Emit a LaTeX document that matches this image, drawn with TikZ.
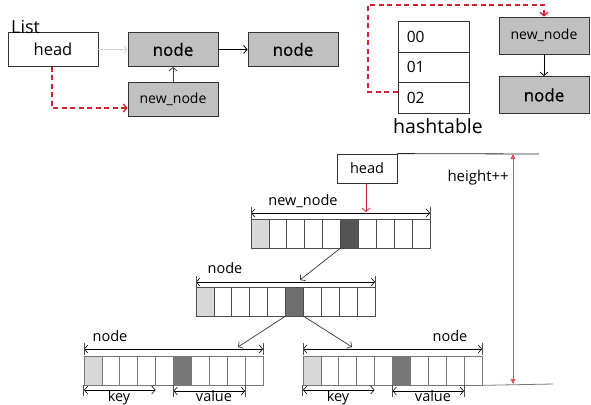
\documentclass[tikz,border=0pt]{standalone}
\usepackage{fontspec}
\setmainfont{Open Sans}
\newfontfamily\semibold[FakeBold=0.8]{Open Sans}
\usetikzlibrary{arrows.meta,calc}

\definecolor{boxgray}{RGB}{192,192,192}
\definecolor{lightcell}{RGB}{216,216,216}
\definecolor{darkcellA}{RGB}{85,85,85}
\definecolor{darkcellB}{RGB}{110,110,110}
\definecolor{darkcellC}{RGB}{120,120,120}
\definecolor{dashred}{RGB}{210,30,45}
\definecolor{heightred}{RGB}{225,80,100}
\definecolor{linegray}{RGB}{120,120,120}

\tikzset{
  box/.style={draw=black!80, line width=0.8pt, minimum width=90pt, minimum height=34pt, inner sep=0pt},
  graybox/.style={box, fill=boxgray},
  cell/.style={line width=0.7pt, minimum width=17.9pt, minimum height=29pt, inner sep=0pt},
  barb/.style={-{Straight Barb[length=3.5pt,width=8pt]}},
  dblbarb/.style={{Straight Barb[length=3.5pt,width=8pt]}-{Straight Barb[length=3.5pt,width=8pt]}},
  reddash/.style={draw=dashred, line width=1.3pt, dash pattern=on 5pt off 3.5pt},
  tick/.style={line width=0.6pt, draw=black!70},
  lbl/.style={font=\fontsize{14.5}{16}\selectfont, inner sep=0pt},
  bignode/.style={font=\fontsize{17}{19}\selectfont\semibold},
}

% one row of ten cells: name, left x, top y, colour of the sixth cell, border colour
\newcommand\cellrow[5]{%
  \foreach \i in {0,...,9}{%
    \pgfmathsetmacro\cx{#2+(\i+0.5)*17.9}%
    \ifnum\i=0 \def\cf{lightcell}\else\ifnum\i=5 \def\cf{#4}\else\def\cf{white}\fi\fi
    \node[cell, draw=#5, fill=\cf] (#1-\i) at (\cx,#3+14.5) {};
  }%
}

\begin{document}
\begin{tikzpicture}[x=1pt,y=-1pt]
\useasboundingbox (0,0) rectangle (591,404);

% ---------------- linked list ----------------
\node[box, font=\fontsize{16.5}{18}\selectfont] (head) at (53,49.5) {head};
\node[graybox, bignode] (n1) at (173,49.5) {node};
\node[graybox, bignode] (n2) at (293,49.5) {node};
\node[graybox, font=\fontsize{14}{15}\selectfont] (nn) at (173,99) {new\_node};
\node[anchor=south west, inner sep=0pt, font=\fontsize{18}{20}\selectfont] (list) at (11,34) {List};

\draw[barb, draw=black!18, line width=0.8pt] (head) -- (n1);
\draw[barb, line width=0.8pt] (n1) -- (n2);
\draw[barb, line width=0.8pt, draw=black!75] (nn) -- (n1);
\coordinate (hbend) at (52,108);
\draw[reddash, barb] (head.south -| hbend) -- (hbend) -- (hbend -| nn.west);

% ---------------- hashtable ----------------
\node[draw=black!80, line width=0.8pt, minimum width=71pt, minimum height=31pt, inner sep=0pt] (h0) at (433.5,36.5) {};
\node[draw=black!80, line width=0.8pt, minimum width=71pt, minimum height=30pt, inner sep=0pt] (h1) at (433.5,67) {};
\node[draw=black!80, line width=0.8pt, minimum width=71pt, minimum height=31pt, inner sep=0pt] (h2) at (433.5,97.5) {};
\node[anchor=west, inner sep=0pt, font=\fontsize{15.5}{17}\selectfont] at (h0.west) [xshift=9pt] {00};
\node[anchor=west, inner sep=0pt, font=\fontsize{15.5}{17}\selectfont] at (h1.west) [xshift=9pt] {01};
\node[anchor=west, inner sep=0pt, font=\fontsize{15.5}{17}\selectfont] at (h2.west) [xshift=9pt] {02};
\node[inner sep=0pt, font=\fontsize{19.5}{21}\selectfont] (htlabel) at (438,126) {hashtable};

\node[graybox, minimum height=37pt, font=\fontsize{14}{15}\selectfont] (hnn) at (544,35.5) {new\_node};
\node[graybox, minimum height=37pt, bignode] (hn) at (544,95) {node};
\draw[barb, line width=0.8pt] (hnn) -- (hn);
\coordinate (hb1) at (368,92);
\coordinate (hb2) at (368,5);
\draw[reddash, barb] (h2.west |- hb1) -- (hb1) -- (hb2) -- (hb2 -| hnn.north) -- (hnn.north);

% ---------------- skip list ----------------
\node[draw=black!80, line width=0.8pt, minimum width=60pt, minimum height=29pt, inner sep=0pt, font=\fontsize{14.5}{16}\selectfont] (shead) at (367,168.5) {head};
\coordinate (topend) at (539,154);
\draw[line width=0.8pt, draw=black!85] (shead.north east) -- (topend);

% level 2
\cellrow{A}{251}{219}{darkcellA}{black!70}
\draw[dblbarb, line width=0.6pt] (251,213) coordinate (Aleft) -- (430,213) coordinate (Aright);
\draw[tick] (Aleft) ++(0,-6) -- ++(0,12);
\draw[tick] (Aright) ++(0,-6) -- ++(0,12);
\node[lbl] at (303,201) {new\_node};

% level 1
\cellrow{B}{196}{287}{darkcellB}{black!70}
\draw[dblbarb, line width=0.6pt] (196,282) coordinate (Bleft) -- (375,282) coordinate (Bright);
\draw[tick] (Bleft) ++(0,-6) -- ++(0,11);
\draw[tick] (Bright) ++(0,-6) -- ++(0,11);
\node[lbl] at (225,268) {node};

% level 0, left
\cellrow{C}{84}{356}{darkcellC}{linegray}
\draw[dblbarb, line width=0.6pt] (84,349) coordinate (Cleft) -- (263,349) coordinate (Cright);
\draw[tick] (Cleft) ++(0,-6) -- ++(0,12);
\draw[tick] (Cright) ++(0,-6) -- ++(0,12);
\node[lbl] at (110,336) {node};
\draw[dblbarb, line width=0.6pt] (84,390) coordinate (Ck1) -- (155.6,390) coordinate (Ck2);
\draw[tick] (C-0.south west) -- ++(0,11);
\draw[dblbarb, line width=0.6pt] (173.5,391) coordinate (Cv1) -- (245,391) coordinate (Cv2);
\draw[tick] (C-5.south west) -- ++(0,12);
\draw[tick] (C-8.south east) -- ++(0,12);
\node[lbl, anchor=base] at (119,401) {key};
\node[lbl, anchor=base] at (214,401) {value};

% level 0, right
\cellrow{D}{303}{356}{darkcellC}{linegray}
\draw[dblbarb, line width=0.6pt] (303,349) coordinate (Dleft) -- (482,349) coordinate (Dright);
\draw[tick] (Dleft) ++(0,-6) -- ++(0,12);
\draw[tick] (Dright) ++(0,-6) -- ++(0,12);
\node[lbl] at (450,336) {node};
\draw[dblbarb, line width=0.6pt] (303,390) coordinate (Dk1) -- (374.6,390) coordinate (Dk2);
\draw[tick] (D-0.south west) -- ++(0,11);
\draw[dblbarb, line width=0.6pt] (392.5,391) coordinate (Dv1) -- (464,391) coordinate (Dv2);
\draw[tick] (D-5.south west) -- ++(0,12);
\draw[tick] (D-8.south east) -- ++(0,12);
\node[lbl, anchor=base] at (338,401) {key};
\node[lbl, anchor=base] at (433,401) {value};

\coordinate (botend) at (553,384);
\draw[line width=0.8pt, draw=linegray] (D-9.south east) -- (botend);

% links between levels
\coordinate (Bin) at (300,280);
\coordinate (Cin) at (238,347);
\coordinate (Din) at (352,347);
\draw[barb, line width=0.7pt, draw=black!80] (A-5.south west) -- (Bin);
\draw[barb, line width=0.7pt, draw=black!80] (B-5.south west) -- (Cin);
\draw[barb, line width=0.7pt, draw=black!80] (B-5.south east) -- (Din);

% head pointer and height
\coordinate (Ain) at (366,212);
\draw[barb, draw=dashred, line width=0.8pt] (shead.south -| Ain) -- (Ain);
\coordinate (htop) at (513,154);
\coordinate (hbot) at (513,384);
\draw[{Triangle[length=5pt,width=5pt]}-{Triangle[length=5pt,width=5pt]}, draw=heightred, fill=red, line width=0.9pt] (hbot) -- (htop);
\node[lbl, font=\fontsize{15}{16}\selectfont, anchor=east] (hlabel) at (509,178) {height++};

\end{tikzpicture}
\end{document}
